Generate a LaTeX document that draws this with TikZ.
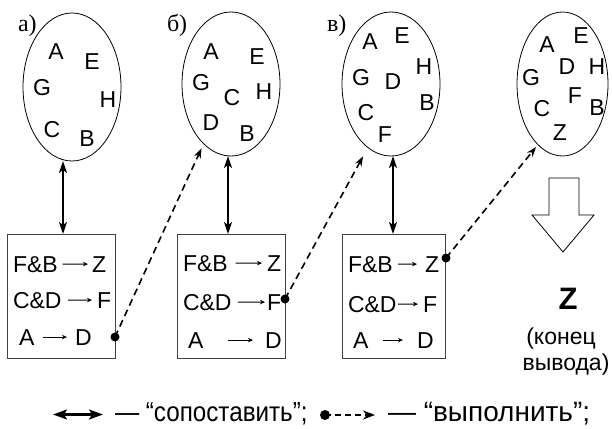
\documentclass[tikz,border=0pt]{standalone}
\usepackage{fontspec}
\setmainfont{Liberation Sans}
\newfontfamily\labfont{Liberation Serif}
\newfontfamily\legfonta[FakeStretch=0.88]{Liberation Sans}
\usetikzlibrary{shapes.geometric,arrows.meta}
\begin{document}
\begin{tikzpicture}[x=1pt,y=-1pt,
  every node/.style={inner sep=0pt, outer sep=0pt, font=\fontsize{23}{27}\selectfont},
  ell/.style={draw, ellipse, line width=0.8pt},
  rulebox/.style={draw=black!75, line width=0.9pt, rectangle, anchor=north west, minimum height=124pt},
  txt/.style={anchor=base west},
  let/.style={anchor=center},
  sarr/.style={-{Stealth[length=5pt,width=4.5pt]}, line width=0.9pt},
  dbl/.style={{Stealth[length=12pt,width=8pt,inset=3pt]}-{Stealth[length=12pt,width=8pt,inset=3pt]}, line width=1.8pt},
  ldbl/.style={{Stealth[length=14pt,width=10pt,inset=3pt]}-{Stealth[length=14pt,width=10pt,inset=3pt]}, line width=2.2pt},
  dsh/.style={-{Stealth[length=10pt,width=7pt]}, line width=1.6pt, dash pattern=on 7pt off 4.5pt},
  dotn/.style={circle, fill, minimum size=9pt},
  lab/.style={anchor=base west, font=\fontsize{24}{28}\selectfont\labfont}
]
\useasboundingbox (0,0) rectangle (612,428);

% labels
\node[lab] (la) at (18,32) {а)};
\node[lab] (lb) at (167,32) {б)};
\node[lab] (lv) at (327,32) {в)};

% ellipses
\node[ell, minimum width=98pt, minimum height=148pt] (ea) at (72,87) {};
\node[ell, minimum width=98pt, minimum height=144pt] (eb) at (231,84) {};
\node[ell, minimum width=98pt, minimum height=144pt] (ev) at (391,84) {};
\node[ell, minimum width=91pt, minimum height=144pt] (ez) at (562.5,84) {};

% letters
\foreach \n/\x/\y in {A/56/52, E/92/62, G/42/88, H/108/100, C/52/130, B/87/139}
  \node[let] (a-\n) at (\x,\y) {\n};
\foreach \n/\x/\y in {A/211/52, E/257/57, G/201/83, C/232/98, H/264/92, D/211/123, B/247/134}
  \node[let] (b-\n) at (\x,\y) {\n};
\foreach \n/\x/\y in {A/370/42, E/402/36, H/424/67, G/361/78, D/393/82, B/427/103, C/366/113, F/385/135}
  \node[let] (v-\n) at (\x,\y) {\n};
\foreach \n/\x/\y in {A/547/45, E/581/36, D/567/67, H/597/67, G/531/78, F/575/96, B/597/108, C/542/109, Z/560/133}
  \node[let] (z-\n) at (\x,\y) {\n};

% boxes
\node[rulebox, minimum width=108pt] (ba) at (7,234) {};
\node[rulebox, minimum width=108pt] (bb) at (177,234) {};
\node[rulebox, minimum width=103pt] (bv) at (342,234) {};

% rules: name/left/lx/right/rx/y/s1/s2
\foreach \nm/\l/\lx/\r/\rx/\y/\sa/\sb in {
  a1/F\&B/13/Z/92/272/5/4, a2/C\&D/13/F/97/308/6.4/5, a3/A/19/D/75/345/8.7/8,
  b1/F\&B/183/Z/267/271/8/5, b2/C\&D/183/F/267/310/6.4/2, b3/A/188/D/265/348/24.7/12,
  v1/F\&B/348/Z/425/272/5.3/8, v2/C\&D/348/F/423/312/1.4/5, v3/A/353/D/417/348/14.7/14}
{
  \node[txt] (\nm l) at (\lx,\y) {\l};
  \node[txt] (\nm r) at (\rx,\y) {\r};
  \draw[sarr, shorten <=\sa pt, shorten >=\sb pt] (\nm l.east) -- (\nm r.west);
}

% match arrows
\coordinate (xa) at (63,0);
\coordinate (xb) at (228,0);
\coordinate (xv) at (393,0);
\draw[dbl] (ba.north -| xa) -- (ea.south -| xa);
\draw[dbl] (bb.north -| xb) -- (eb.south -| xb);
\draw[dbl] (bv.north -| xv) -- (ev.south -| xv);

% execute arrows
\node[dotn] (da) at (115,337) {};
\node[dotn] (db) at (285,299) {};
\node[dotn] (dv) at (446,258) {};
\draw[dsh, shorten >=5pt] (da.center) -- (eb);
\draw[dsh, shorten >=10pt] (db.center) -- (ev.250);
\draw[dsh, shorten >=3pt] (dv.center) -- (ez.248);

% hollow arrow
\draw[line width=0.8pt] (549,178) -- (579,178) -- (579,215) -- (594,215) -- (563,252) -- (532,215) -- (549,215) -- cycle;

\node[font=\fontsize{31}{35}\selectfont\bfseries] (zz) at (568,299) {Z};
\node[anchor=base] (k1) at (561,344) {(конец};
\node[anchor=base] (k2) at (566,370) {вывода)};

% legend
\coordinate (l1a) at (53,414.5);
\coordinate (l1b) at (103,414.5);
\draw[ldbl] (l1a) -- (l1b);
\node[txt, font=\fontsize{27.5}{32}\selectfont\legfonta] (t1) at (115,421) {— “сопоставить”;};
\node[dotn, minimum size=10pt] (ld) at (325,415) {};
\coordinate (l2b) at (375,415);
\draw[-{Stealth[length=12pt,width=9pt]}, line width=2pt, dash pattern=on 6pt off 4pt] (ld.center) -- (l2b);
\node[txt, font=\fontsize{28}{32}\selectfont] (t2) at (388,421) {— “выполнить”;};
\end{tikzpicture}
\end{document}
